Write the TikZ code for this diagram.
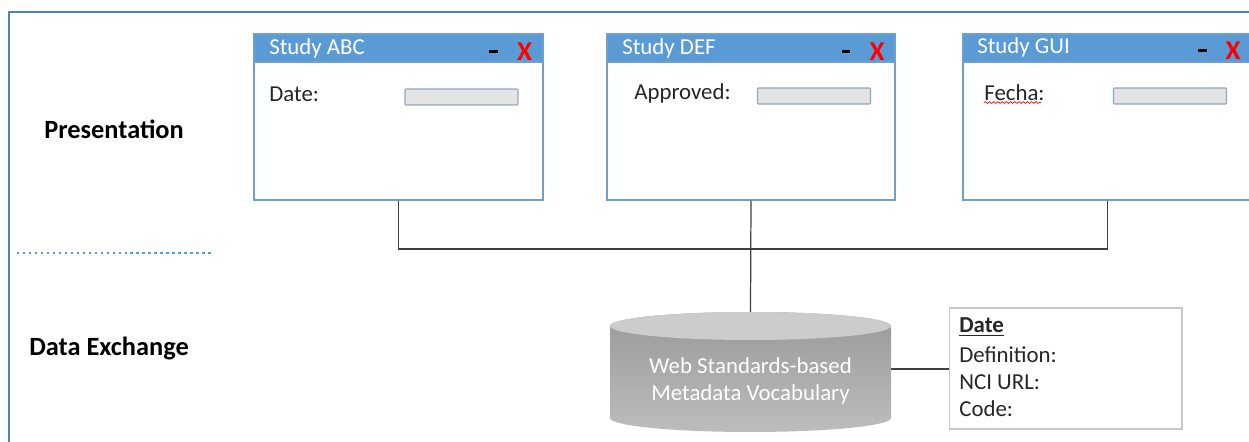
\documentclass[tikz,border=0pt]{standalone}
\usepackage{fontspec}
\setmainfont{Carlito}
\usetikzlibrary{positioning}
\usetikzlibrary{decorations.pathmorphing}

\definecolor{framecol}{HTML}{4F81BD}
\definecolor{winblue}{HTML}{5B9BD5}
\definecolor{winedge}{HTML}{6E9FCF}
\definecolor{fieldedge}{HTML}{8FA8C4}
\definecolor{fieldfill}{HTML}{E4E4E4}
\definecolor{linkgray}{HTML}{404040}
\definecolor{termedge}{HTML}{C8C8C8}
\definecolor{inktext}{HTML}{262626}

\tikzset{
  win/.style={draw=winedge, fill=white, line width=0.8pt, minimum height=3.32cm, inner sep=0pt},
  titlebar/.style={fill=winblue, draw=winedge, line width=0.8pt, minimum height=0.56cm, inner sep=0pt},
  titletext/.style={font=\fontsize{13}{15}\selectfont, text=white, anchor=west, inner sep=0pt},
  minbtn/.style={fill=black, minimum width=0.17cm, minimum height=0.06cm, inner sep=0pt},
  closetext/.style={font=\fontsize{15.5}{16}\selectfont\bfseries, text=red, inner sep=0pt},
  fieldlabel/.style={font=\fontsize{13}{15}\selectfont, text=inktext, anchor=west, inner sep=0pt},
  field/.style={draw=fieldedge, fill=fieldfill, line width=0.6pt, rounded corners=0.5pt, minimum width=2.26cm, minimum height=0.32cm, inner sep=0pt},
  layertext/.style={font=\fontsize{15}{16}\selectfont\bfseries, text=black, anchor=west, inner sep=0pt},
  link/.style={draw=linkgray, line width=0.7pt},
  termtext/.style={font=\fontsize{13}{15}\selectfont, text=inktext, anchor=west, inner sep=0pt},
}

\begin{document}
\begin{tikzpicture}[x=0.02cm, y=-0.02cm]
\useasboundingbox (0,0) rectangle (1249,442);
\fill[white] (0,0) rectangle (1249,442);

% outer frame
\draw[framecol, line width=1.2pt] (9,460) -- (9,12) -- (1270,12);

% layer labels
\node[layertext] (presentation) at (44,129) {Presentation};
\node[layertext] (exchange) at (29,348) {Data Exchange};
\draw[winblue, line width=1.4pt, dash pattern=on 1.4pt off 2pt] (17,253) -- (213,253);

% window ABC
\node[win, minimum width=5.78cm] (abc) at (398.5,117) {};
\node[titlebar, minimum width=5.78cm, anchor=north] (abcbar) at (abc.north) {};
\node[titletext] (abctitle) at (269,48) {Study ABC};
\node[minbtn] (abcmin) at (493.5,51.5) {};
\node[closetext] (abcclose) at (524.5,51.5) {X};
\node[fieldlabel] (abclabel) at (269,94) {Date:};
\node[field] (abcfield) at (461.5,97) {};

% window DEF
\node[win, minimum width=5.76cm] (def) at (751,117) {};
\node[titlebar, minimum width=5.76cm, anchor=north] (defbar) at (def.north) {};
\node[titletext] (deftitle) at (622,48) {Study DEF};
\node[minbtn] (defmin) at (846,51.5) {};
\node[closetext] (defclose) at (877,51.5) {X};
\node[fieldlabel] (deflabel) at (634,93) {Approved:};
\node[field] (deffield) at (814,96) {};

% window GUI
\node[win, minimum width=5.78cm] (gui) at (1107.5,117) {};
\node[titlebar, minimum width=5.78cm, anchor=north] (guibar) at (gui.north) {};
\node[titletext] (guititle) at (977,47) {Study GUI};
\node[minbtn] (guimin) at (1202.5,51) {};
\node[closetext] (guiclose) at (1233,51) {X};
\node[fieldlabel] (guilabel) at (984,93) {Fecha:};
\draw[red, line width=0.4pt, decorate, decoration={snake, amplitude=0.5pt, segment length=2.4pt}] (984,102.5) -- (1041,102.5);
\node[field] (guifield) at (1170,96) {};

% vocabulary store
\shade[top color=gray!80, bottom color=gray!52] (610,326) -- (610,418)
  arc[start angle=180, end angle=0, x radius=140.5, y radius=14] -- (891,326)
  arc[start angle=0, end angle=-180, x radius=140.5, y radius=14] -- cycle;
\fill[gray!40] (750.5,326) ellipse [x radius=140.5, y radius=14];
\node[font=\fontsize{13}{15.3}\selectfont, text=white, align=center] (vocab) at (750.5,381) {Web Standards-based\\Metadata Vocabulary};
\coordinate (vocabtop) at (750.5,312);
\coordinate (vocabright) at (891,369);

% term box
\node[draw=termedge, fill=white, line width=0.6pt, minimum width=4.66cm, minimum height=2.42cm, inner sep=0pt] (term) at (1065.5,368.5) {};
\node[termtext] (termdate) at (959,327) {\underline{\textbf{Date}}};
\node[termtext] (termdef) at (959,355) {Definition:};
\node[termtext] (termurl) at (959,382) {NCI URL:};
\node[termtext] (termcode) at (959,409) {Code:};

% connectors
\coordinate (bus) at (751,249);
\draw[link] (abc.south) |- (bus) -| (gui.south);
\draw[link] (def.south) -- (vocabtop);
\draw[link] (vocabright) -- (term.west |- vocabright);

\end{tikzpicture}
\end{document}
